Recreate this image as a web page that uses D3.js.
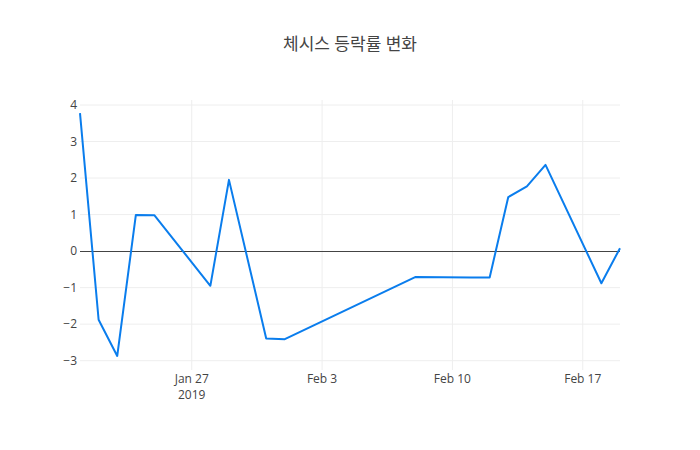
<!DOCTYPE html>
<html>
<head>
<meta charset="utf-8">
<script src="https://cdn.jsdelivr.net/npm/d3@7"></script>
<style>
  body { margin: 0; background: #fff; }
  text { font-family: "Open Sans", "Noto Sans CJK KR", sans-serif; fill: #444; }
</style>
</head>
<body>
<svg id="chart" width="700" height="450"></svg>
<script>
// daily change (%) by trading day
var dates = ["2019-01-21","2019-01-22","2019-01-23","2019-01-24","2019-01-25",
  "2019-01-28","2019-01-29","2019-01-31","2019-02-01","2019-02-08",
  "2019-02-11","2019-02-12","2019-02-13","2019-02-14","2019-02-15",
  "2019-02-18","2019-02-19"]
var changes = [3.78, -1.88, -2.87, 0.99, 0.98,
  -0.95, 1.95, -2.39, -2.41, -0.71,
  -0.72, -0.72, 1.48, 1.77, 2.36,
  -0.88, 0.08]
var yTicks = [-3, -2, -1, 0, 1, 2, 3, 4]
var xTicks = ["2019-01-27", "2019-02-03", "2019-02-10", "2019-02-17"]
var title = "체시스 등락률 변화"

var parse = d3.timeParse("%Y-%m-%d")
var margin = {top: 100, right: 80, bottom: 80, left: 80}
var W = 700, H = 450
var svg = d3.select('#chart')

var x = d3.scaleTime()
  .domain([parse("2019-01-21"), parse("2019-02-19")])
  .range([margin.left, W - margin.right])
var y = d3.scaleLinear()
  .domain([-3.255, 4.137])
  .range([H - margin.bottom, margin.top])

var fmtTick = d3.timeFormat("%b %-d")

// grid
svg.append('g').selectAll('line').data(yTicks.filter(d => d != 0)).enter().append('line')
  .attr('x1', margin.left).attr('x2', W - margin.right)
  .attr('y1', d => y(d)).attr('y2', d => y(d))
  .attr('stroke', '#eee')

svg.append('g').selectAll('line').data(xTicks.map(parse)).enter().append('line')
  .attr('x1', d => x(d)).attr('x2', d => x(d))
  .attr('y1', margin.top).attr('y2', H - margin.bottom)
  .attr('stroke', '#eee')

// zero line
svg.append('line')
  .attr('x1', margin.left).attr('x2', W - margin.right)
  .attr('y1', y(0)).attr('y2', y(0))
  .attr('stroke', '#444').attr('stroke-width', 1)
  .attr('shape-rendering', 'crispEdges')

// y labels
svg.append('g').selectAll('text').data(yTicks).enter().append('text')
  .attr('x', margin.left - 3)
  .attr('y', d => y(d))
  .attr('dy', '0.35em')
  .attr('text-anchor', 'end')
  .style('font-size', '12px')
  .text(d => d < 0 ? '\u2212' + Math.abs(d) : d)

// x labels
var xl = svg.append('g').selectAll('text').data(xTicks.map(parse)).enter().append('text')
  .attr('x', d => x(d))
  .attr('y', H - margin.bottom + 13)
  .attr('text-anchor', 'middle')
  .style('font-size', '12px')
xl.append('tspan').attr('x', d => x(d)).text(fmtTick)
xl.filter((d, i) => i == 0).append('tspan')
  .attr('x', d => x(d)).attr('dy', '1.35em').text('2019')

// line
var line = d3.line()
  .x((d, i) => x(parse(dates[i])))
  .y(d => y(d))

svg.append('path')
  .datum(changes)
  .attr('d', line)
  .attr('fill', 'none')
  .attr('stroke', '#0a7ded')
  .attr('stroke-width', 2)
  .attr('stroke-linejoin', 'round')

// title
svg.append('text')
  .attr('x', W / 2)
  .attr('y', 50)
  .attr('text-anchor', 'middle')
  .style('font-size', '17px')
  .text(title)
</script>
</body>
</html>
